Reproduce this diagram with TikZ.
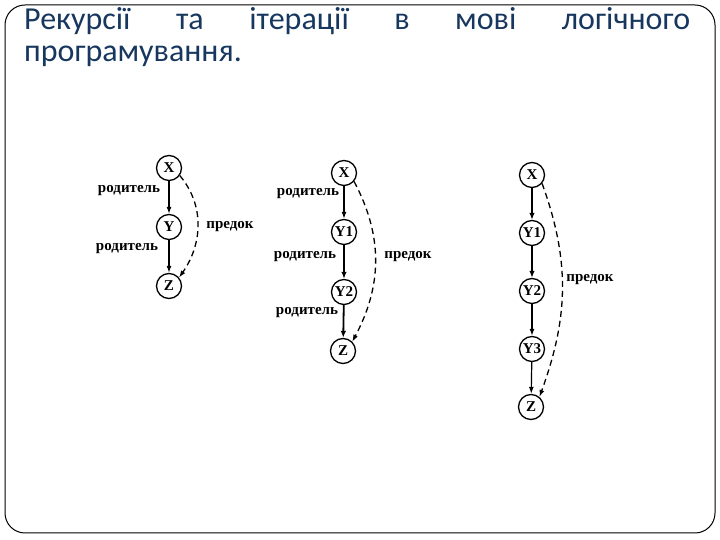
\documentclass[tikz,border=0pt]{standalone}
\usepackage{fontspec}
\setmainfont{Liberation Serif}
\newfontfamily\titlefont{Carlito}
\usetikzlibrary{arrows.meta}
\definecolor{titleblue}{RGB}{23,55,94}
\begin{document}
\begin{tikzpicture}[x=1pt,y=1pt,
  vnode/.style={circle,draw,line width=1.3pt,minimum size=25pt,inner sep=0pt,font=\bfseries\fontsize{15}{15}\selectfont},
  lbl/.style={font=\bfseries\fontsize{15}{15}\selectfont,inner sep=0pt},
  parent/.style={-{Latex[length=7pt,width=5pt]},line width=1.2pt},
  parentthick/.style={-{Latex[length=7pt,width=5.5pt]},line width=1.8pt},
  ancestor/.style={-{Latex[length=7pt,width=5pt]},line width=1.3pt,dash pattern=on 6pt off 4pt},
  titletext/.style={anchor=base west,inner sep=0pt,text=titleblue,font=\titlefont\fontsize{32}{32}\selectfont}]
\useasboundingbox (0,0) rectangle (720,540);
\draw[line width=1pt,rounded corners=20pt] (5,7) rectangle (715,535);
% title
\node[titletext] (t1) at (24,510) {\hbox to 666pt{Рекурсії\hfill та\hfill ітерації\hfill в\hfill мові\hfill логічного}};
\node[titletext] (t2) at (24,478) {програмування.};
% diagram 1
\node[vnode] (a1) at (169,372) {X};
\node[vnode] (b1) at (169,313) {Y};
\node[vnode] (c1) at (169,254) {Z};
\draw[parent] (a1) -- (b1);
\draw[parent] (b1) -- (c1);
\draw[ancestor] (a1.-35) to[out=-50,in=55] (c1.40);
\node[lbl] (l11) at (129,349) {родитель};
\node[lbl] (l12) at (127,291) {родитель};
\node[lbl] (l13) at (230,313) {предок};
% diagram 2
\node[vnode] (a2) at (344,367) {X};
\node[vnode] (b2) at (344,308) {Y1};
\node[vnode] (c2) at (344,248) {Y2};
\node[vnode] (d2) at (343,189) {Z};
\draw[parent] (a2) -- (b2);
\draw[parentthick] (b2) -- (c2);
\draw[parentthick] (c2) -- (d2);
\draw[ancestor] (a2.-40) to[out=-62,in=62] (d2.45);
\node[lbl] (l21) at (308,346) {родитель};
\node[lbl] (l22) at (305,283) {родитель};
\node[lbl] (l23) at (307,227) {родитель};
\node[lbl] (l24) at (408,283) {предок};
% diagram 3
\node[vnode] (a3) at (532,365) {X};
\node[vnode] (b3) at (532,307) {Y1};
\node[vnode] (c3) at (532,249) {Y2};
\node[vnode] (d3) at (532,191) {Y3};
\node[vnode] (e3) at (531,133) {Z};
\draw[parentthick] (a3) -- (b3);
\draw[parentthick] (b3) -- (c3);
\draw[parent] (c3) -- (d3);
\draw[parent] (d3) -- (e3);
\draw[ancestor] (a3.-40) to[out=-70,in=70] (e3.50);
\node[lbl] (l31) at (590,260) {предок};
\end{tikzpicture}
\end{document}
